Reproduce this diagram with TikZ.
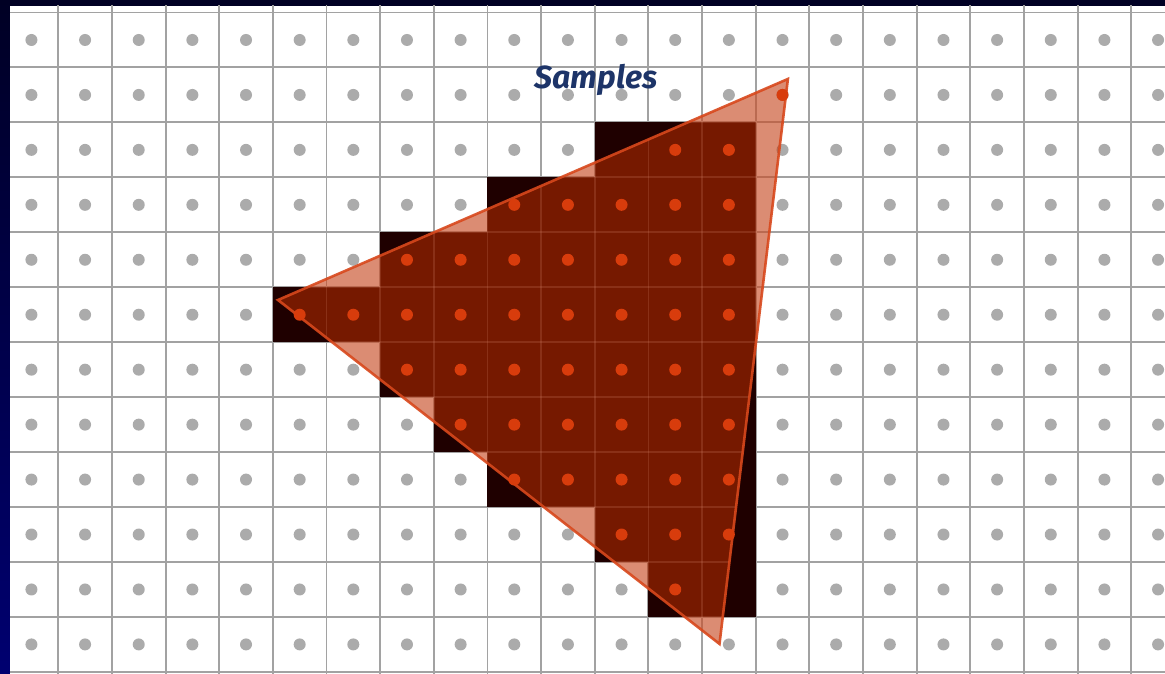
\documentclass[tikz,border=0pt]{standalone}
\usepackage{fontspec}
\newfontfamily\samplesfont{Fira Sans}
\definecolor{bordertop}{HTML}{000024}
\definecolor{borderbot}{HTML}{000070}
\definecolor{gridgray}{HTML}{A2A2A2}
\definecolor{dotgray}{HTML}{ABABAB}
\definecolor{darkcell}{HTML}{1F0000}
\definecolor{trifill}{HTML}{BF2E00}
\definecolor{tristroke}{HTML}{D8481C}
\definecolor{reddot}{HTML}{D83C0C}
\definecolor{labelnavy}{HTML}{1D3468}
\tikzset{
  gridline/.style={draw=gridgray, line width=1.9pt},
  innergrid/.style={draw=white, opacity=0.2, line width=1.8pt},
  graysample/.style={fill=dotgray},
  redsample/.style={fill=reddot},
  covered/.style={fill=darkcell},
  tri/.style={fill=trifill, fill opacity=0.55, draw=tristroke, draw opacity=0.9, line width=2.6pt, line join=miter},
  labeltext/.style={text=labelnavy, font=\samplesfont\bfseries\itshape\fontsize{32}{36}\selectfont, inner sep=0pt}
}
\begin{document}
\begin{tikzpicture}[x=1pt, y=-1pt]
\useasboundingbox (0,0) rectangle (1165,674);
\shade[top color=bordertop, bottom color=borderbot] (0,0) rectangle (1165,674);
\fill[white] (10,6) rectangle (1165,674);
\begin{scope}
\clip (10,6) rectangle (1165,674);
\begin{scope}[shift={(4.6,12.5)}, x=53.65pt, y=-54.95pt]
  % grid
  \foreach \k in {0,...,22} \draw[gridline] (\k,-1) -- (\k,13);
  \foreach \k in {0,...,12} \draw[gridline] (-1,\k) -- (23,\k);
  % sample points
  \foreach \r in {0,...,11} \foreach \c in {0,...,21}
    \fill[graysample] (\c+0.5,\r+0.5) circle (6pt);
  % covered pixels
  \foreach \r/\a/\b in {2/11/13,3/9/13,4/7/13,5/5/13,6/7/13,7/8/13,8/9/13,9/11/13,10/12/13}
    \fill[covered] (\a,\r) rectangle (\b+1,\r+1);
  % triangle
  \coordinate (L) at (5.096,5.232);
  \coordinate (T) at (14.60,1.21);
  \coordinate (B) at (13.325,11.49);
  \begin{scope}
    \clip (L) -- (T) -- (B) -- cycle;
    \foreach \k in {0,...,22} \draw[innergrid] (\k,-1) -- (\k,13);
    \foreach \k in {0,...,12} \draw[innergrid] (-1,\k) -- (23,\k);
  \end{scope}
  \path[tri] (L) -- (T) -- (B) -- cycle;
  % covered samples
  \foreach \r/\a/\b in {1/14/14,2/12/13,3/9/13,4/7/13,5/5/13,6/7/13,7/8/13,8/9/13,9/11/13,10/12/12}
    \foreach \c in {\a,...,\b}
      \fill[redsample] (\c+0.5,\r+0.5) circle (6pt);
\end{scope}
\end{scope}
\node[labeltext] (samples) at (596,80) {Samples};
\end{tikzpicture}
\end{document}
